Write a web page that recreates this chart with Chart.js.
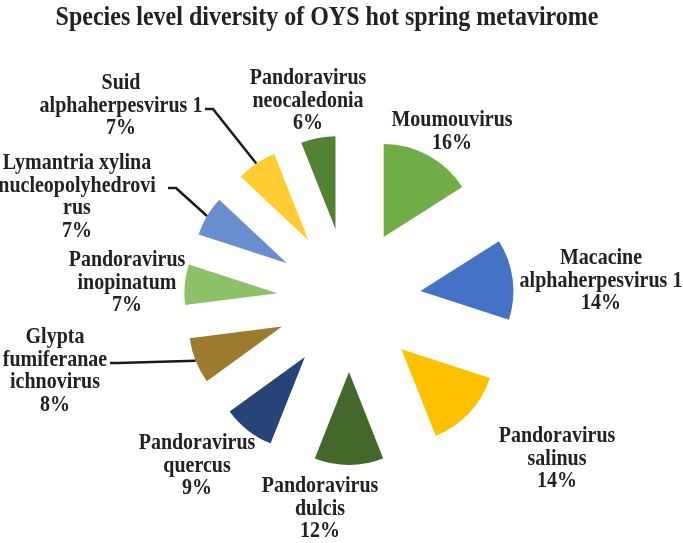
<!DOCTYPE html>
<html>
<head>
<meta charset="utf-8">
<script src="https://cdn.jsdelivr.net/npm/chart.js@4.4.1/dist/chart.umd.min.js"></script>
<style>
    html, body { margin: 0; padding: 0; background: #ffffff; }
</style>
</head>
<body>
<canvas id="grafPizza" width="683" height="543"></canvas>
<script>
const especies = [
    'Moumouvirus', 'Macacine alphaherpesvirus 1', 'Pandoravirus salinus',
    'Pandoravirus dulcis', 'Pandoravirus quercus', 'Glypta fumiferanae ichnovirus',
    'Pandoravirus inopinatum', 'Lymantria xylina nucleopolyhedrovirus',
    'Suid alphaherpesvirus 1', 'Pandoravirus neocaledonia'
]
const percentuais = [16, 14, 14, 12, 9, 8, 7, 7, 7, 6]

// quebras de linha como aparecem nos rotulos
const linhasRotulo = [
    ['Moumouvirus'],
    ['Macacine', 'alphaherpesvirus 1'],
    ['Pandoravirus', 'salinus'],
    ['Pandoravirus', 'dulcis'],
    ['Pandoravirus', 'quercus'],
    ['Glypta', 'fumiferanae', 'ichnovirus'],
    ['Pandoravirus', 'inopinatum'],
    ['Lymantria xylina', 'nucleopolyhedrovi', 'rus'],
    ['Suid', 'alphaherpesvirus 1'],
    ['Pandoravirus', 'neocaledonia']
]

const cores = [
    '#70AD47', '#4472C4', '#FFC000', '#43682B', '#264478',
    '#9C7A2E', '#8CC168', '#698ED0', '#FFCD33', '#548235'
]

// centro (x) e primeira linha (y) de cada rotulo
const posRotulo = [
    [452, 120], [601, 258], [557, 436], [320, 486], [197, 443],
    [55, 337], [127, 260], [77, 163], [121, 83], [308, 78]
]
// linhas de chamada: indice da fatia -> inicio da linha
const chamadas = [
    { i: 8, x: 205, y: 109 },
    { i: 7, x: 168, y: 188 },
    { i: 5, x: 110, y: 363 }
]

const AFASTA = 72   // explosao das fatias
const RAIO = 93
const ALT_LINHA = 22.7
const ESTICA = 1.15  // fonte do original e mais alta

const explodir = {
    id: 'explodir',
    beforeDatasetDraw(chart, args) {
        const ctx = chart.ctx
        args.meta.data.forEach(arc => {
            const meio = (arc.startAngle + arc.endAngle) / 2
            ctx.save()
            ctx.translate(Math.cos(meio) * AFASTA, Math.sin(meio) * AFASTA)
            arc.draw(ctx)
            ctx.restore()
        })
        return false
    }
}

function escreve(ctx, t, x, y) {
    ctx.save()
    ctx.translate(x, y)
    ctx.scale(1, ESTICA)
    ctx.fillText(t, 0, 0)
    ctx.restore()
}

const rotulos = {
    id: 'rotulos',
    afterDraw(chart) {
        const ctx = chart.ctx
        const arcos = chart.getDatasetMeta(0).data
        ctx.save()

        // titulo
        ctx.fillStyle = '#222222'
        ctx.textAlign = 'center'
        ctx.textBaseline = 'middle'
        ctx.font = 'bold 24px "Liberation Serif", "Times New Roman", serif'
        escreve(ctx, 'Species level diversity of OYS hot spring metavirome', 327, 18)

        // linhas de chamada
        ctx.strokeStyle = '#1a1a1a'
        ctx.lineWidth = 2.5
        chamadas.forEach(c => {
            const a = arcos[c.i]
            const meio = (a.startAngle + a.endAngle) / 2
            const r = a.outerRadius
            const fx = a.x + Math.cos(meio) * (AFASTA + r)
            const fy = a.y + Math.sin(meio) * (AFASTA + r)
            ctx.beginPath()
            ctx.moveTo(c.x, c.y)
            ctx.lineTo(c.x + 8, c.y)
            ctx.lineTo(fx, fy)
            ctx.stroke()
        })

        // rotulos das fatias
        ctx.font = 'bold 20px "Liberation Serif", "Times New Roman", serif'
        linhasRotulo.forEach((linhas, i) => {
            const txt = linhas.concat([percentuais[i] + '%'])
            const [x, y] = posRotulo[i]
            txt.forEach((t, k) => {
                escreve(ctx, t, x, y + k * ALT_LINHA)
            })
        })
        ctx.restore()
    }
}

const grafPizza = document.getElementById('grafPizza')

new Chart(grafPizza, {
    type: 'pie',
    data: {
        labels: especies,
        datasets: [{
            data: percentuais,
            backgroundColor: cores,
            borderWidth: 0,
            radius: RAIO
        }]
    },
    options: {
        responsive: false,
        animation: false,
        events: [],
        layout: {
            padding: { left: 15, right: 0, top: 57, bottom: 0 }
        },
        plugins: {
            legend: { display: false },
            title: { display: false },
            tooltip: { enabled: false }
        }
    },
    plugins: [explodir, rotulos]
})
</script>
</body>
</html>
